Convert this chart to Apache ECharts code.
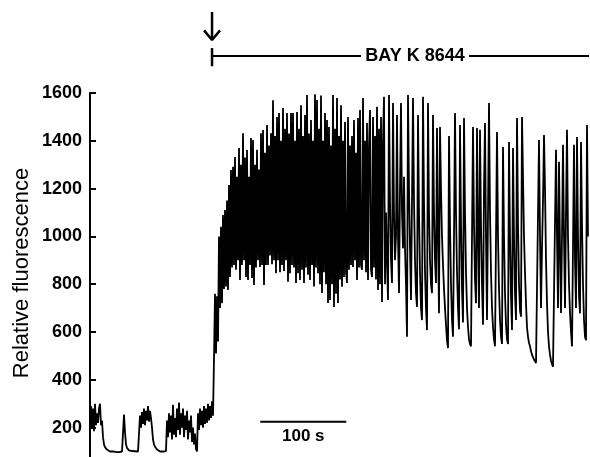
<!DOCTYPE html>
<html>
<head>
<meta charset="utf-8">
<script src="https://cdn.jsdelivr.net/npm/echarts@6/dist/echarts.min.js"></script>
<style>
  html, body { margin: 0; padding: 0; background: #fff; }
</style>
</head>
<body>
<div id="chart" style="width: 590px;height: 457px;"></div>
<script>
// one sample per pixel column of the original trace, 86 samples = 100 s
const sampleStep = 100 / 86

// before BAY K 8644
const restTrace = [
  240, 290, 200, 280, 185, 300, 210, 260, 220, 280,
  300, 210, 230, 160, 130, 118, 112, 108, 105, 103,
  100, 102, 98, 100, 97, 100, 98, 102, 100, 97,
  100, 103, 100, 105, 255, 180, 130, 115, 108, 105,
  103, 100, 102, 98, 100, 101, 99, 102, 100, 105,
  250, 200, 265, 215, 280, 210, 270, 230, 290, 225,
  270, 240, 200, 150, 130, 120, 112, 108, 105, 103,
  100, 102, 99, 100, 98, 100, 102, 230, 160, 260,
  180, 250, 150, 295, 170, 240, 160, 280, 190, 305,
  170, 260, 200, 280, 160, 250, 190, 270, 150, 230,
  180, 250, 140, 200, 130, 175, 110, 100, 260, 190,
  280, 210, 270, 200, 290, 215, 280, 220, 300, 230,
  290, 240, 310, 250
]

// rise and dense oscillations
const riseTrace = [
  490, 760, 510, 750, 560, 1000, 700, 1040, 720, 1090,
  780, 1110, 790, 1150, 776, 1215, 830, 1278, 870, 1291,
  880, 1332, 860, 1250, 900, 1370, 818, 1300, 880, 1432,
  900, 1330, 830, 1362, 818, 1250, 880, 1412, 826, 1403,
  797, 1300, 870, 1362, 900, 1280, 872, 1432, 880, 1445,
  797, 1350, 880, 1466, 880, 1380, 920, 1432, 884, 1570,
  900, 1420, 846, 1500, 900, 1516, 850, 1400, 880, 1537,
  855, 1450, 900, 1516, 810, 1430, 846, 1516, 880, 1516,
  870, 1400, 805, 1520, 846, 1450, 818, 1549, 860, 1420,
  805, 1508, 870, 1592, 840, 1430, 818, 1487, 880, 1400,
  790, 1595, 870, 1571, 846, 1450, 800, 1590, 763, 1400,
  850, 1516, 800, 1487, 721, 1458, 734, 1380, 800, 1592,
  705, 1450, 760, 1579, 721, 1420, 820, 1549, 789, 1400,
  830, 1479, 850, 805, 1500, 860, 1380, 880, 1420, 872,
  1487, 900, 1350, 818, 1495, 870, 1529, 880, 860, 1579,
  900, 1400, 850, 1474, 818, 1380, 1529, 860, 830, 1500,
  870, 1420, 820, 1542, 776, 1450, 800, 1500, 726, 1400,
  1584, 800
]

// later, slower spikes
const lateTrace = [
  1100, 900, 734, 1592, 1150, 900, 805, 1558, 1100, 900,
  1000, 1508, 1000, 763, 1200, 1558, 1100, 950, 1250, 950,
  800, 580, 1592, 1200, 950, 734, 1150, 1579, 1150, 900,
  760, 705, 1508, 1100, 850, 700, 650, 1584, 1150, 850,
  700, 608, 1558, 1100, 900, 800, 763, 1508, 1100, 900,
  805, 1454, 1000, 678, 1458, 1200, 1000, 880, 780, 700,
  630, 565, 533, 1420, 1050, 800, 650, 580, 1000, 1516,
  1100, 850, 700, 612, 1466, 1050, 780, 640, 1495, 1100,
  850, 700, 620, 570, 550, 540, 537, 1458, 1050, 820,
  720, 1454, 1000, 700, 1446, 1050, 800, 630, 1200, 1474,
  1000, 650, 1100, 1558, 1100, 850, 700, 620, 570, 540,
  533, 1437, 1000, 780, 650, 580, 550, 1374, 1000, 760,
  630, 570, 550, 1395, 1000, 750, 608, 1370, 1000, 760,
  650, 1495, 1050, 800, 690, 664, 1500, 1250, 1000, 850,
  720, 620, 580, 555, 540, 520, 505, 495, 485, 478,
  470, 465, 462, 1403, 1000, 700, 950, 1150, 1424, 1200,
  900, 720, 600, 540, 505, 480, 465, 455, 452, 450,
  1362, 1000, 700, 1312, 950, 680, 1000, 1383, 1000, 700,
  1100, 1446, 1000, 800, 680, 600, 540, 533, 1383, 900,
  700, 1416, 1000, 750, 678, 1395, 1050, 800, 650, 580,
  566, 1466, 1000
]

const yTicks = [200, 400, 600, 800, 1000, 1200, 1400, 1600]

// annotations, in seconds / fluorescence units
const bayStart = 141.9
const bayEnd = 582
const bayLevel = 1755
const bayLabelAt = 377.9
const scaleBar = [198, 298]
const scaleLevel = 225

const trace = restTrace.concat(riseTrace, lateTrace)
const traceData = trace.map((v, i) => [i * sampleStep, v])

const font = '"Liberation Sans", Arial, Helvetica, sans-serif'
const black = '#000'

function segment(name, data, width) {
  return {
    name: name,
    type: 'line',
    clip: false,
    data: data,
    showSymbol: false,
    lineStyle: { color: black, width: width }
  }
}

const myChart = echarts.init(document.getElementById('chart'))
const option = {
  animation: false,
  grid: {
    left: 90,
    top: 93,
    width: 498,
    height: 382.4,
    outerBoundsMode: 'none'
  },
  xAxis: {
    type: 'value',
    min: 0,
    max: (trace.length - 1) * sampleStep,
    show: false
  },
  yAxis: {
    type: 'value',
    min: 0,
    max: 1600,
    interval: 200,
    axisLine: { show: true, lineStyle: { color: black, width: 2 } },
    axisTick: { show: true, inside: true, length: 6, lineStyle: { color: black, width: 2 } },
    splitLine: { show: false },
    axisLabel: {
      margin: 8,
      color: black,
      fontFamily: font,
      fontWeight: 'bold',
      fontSize: 18,
      formatter: function (v) {
        return yTicks.indexOf(v) >= 0 ? String(v) : ''
      }
    }
  },
  series: [
    {
      name: 'trace',
      type: 'line',
      data: traceData,
      showSymbol: false,
      lineStyle: { color: black, width: 1.8 }
    },
    segment('scale bar', [[scaleBar[0], scaleLevel], [scaleBar[1], scaleLevel]], 2),
    segment('bay line', [[bayStart, bayLevel], [bayEnd, bayLevel]], 2),
    segment('bay tick', [[bayStart, 1712], [bayStart, 1788]], 2.5),
    segment('arrow shaft', [[bayStart, 1939], [bayStart, 1822]], 2.5),
    segment('arrow head', [[132.6, 1862], [bayStart, 1822], [151.2, 1862]], 2.5)
  ]
}
myChart.setOption(option)

// texts placed through the chart's own scales
const bayPos = myChart.convertToPixel({ gridIndex: 0 }, [bayLabelAt, bayLevel])
const scalePos = myChart.convertToPixel({ gridIndex: 0 }, [(scaleBar[0] + scaleBar[1]) / 2, scaleLevel])
myChart.setOption({
  graphic: [
    {
      type: 'text',
      x: 22,
      y: 273,
      rotation: Math.PI / 2,
      style: {
        text: 'Relative fluorescence',
        font: '22px ' + font,
        fill: black,
        textAlign: 'center',
        textVerticalAlign: 'middle'
      }
    },
    {
      type: 'rect',
      shape: { x: bayPos[0] - 54, y: bayPos[1] - 8, width: 108, height: 16 },
      style: { fill: '#fff' },
      z: 10
    },
    {
      type: 'text',
      x: bayPos[0],
      y: bayPos[1],
      z: 11,
      style: {
        text: 'BAY K 8644',
        font: 'bold 18px ' + font,
        fill: black,
        textAlign: 'center',
        textVerticalAlign: 'middle'
      }
    },
    {
      type: 'text',
      x: scalePos[0],
      y: scalePos[1] + 15,
      style: {
        text: '100 s',
        font: 'bold 17px ' + font,
        fill: black,
        textAlign: 'center',
        textVerticalAlign: 'middle'
      }
    }
  ]
})
window.addEventListener('resize', function () {
  myChart.resize()
})
</script>
</body>
</html>
